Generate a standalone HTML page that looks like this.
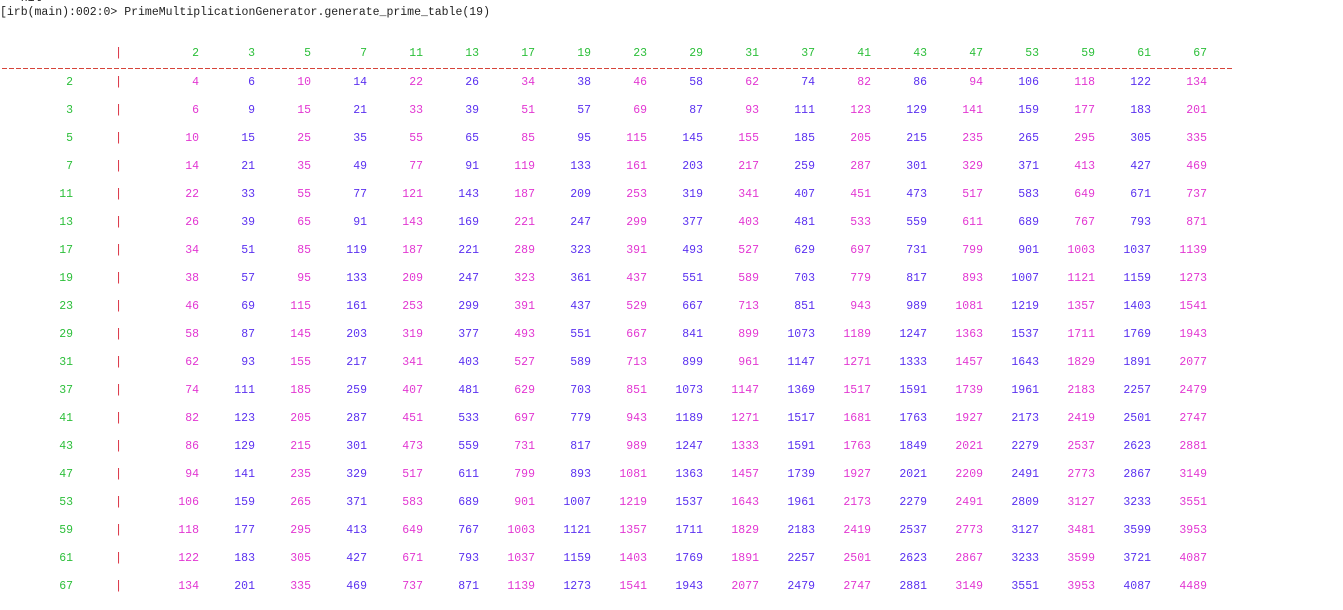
<!DOCTYPE html>
<html><head><meta charset="utf-8"><style>
html,body{margin:0;padding:0;background:#fff;width:1343px;height:610px;overflow:hidden;position:relative;font-family:"Liberation Mono",monospace;font-size:11.5px}
.t{position:absolute;white-space:pre;line-height:14px}
.r{text-align:right;width:60px}
.g{color:#2cbf3a}.m{color:#e236d2}.b{color:#5a30f0}.red{color:#d8283a}
#sep{position:absolute;left:2px;top:68px;width:1232px;height:1px;background:repeating-linear-gradient(90deg,#d6443a 0 5px,transparent 5px 7px)}
</style></head><body>
<div class="t" style="left:0;top:-8px;color:#222">=&gt; nil</div>
<div class="t" style="left:0;top:6px;color:#222">[irb(main):002:0&gt; PrimeMultiplicationGenerator.generate_prime_table(19)</div>
<div id="sep"></div>
<div id="tbl"></div>
<script>
const primes=[2,3,5,7,11,13,17,19,23,29,31,37,41,43,47,53,59,61,67];
const rowPrimes=[2,3,5,7,11,13,17,19,23,29,31,37,41,43,47,53,59,61,67];
const tbl=document.getElementById('tbl');
const colRight=i=>199+i*56;
const rowY=j=>83+j*28;
function add(txt,cls,right,cy,name){
  const s=document.createElement('div');
  s.className='t r '+cls;
  s.textContent=txt;
  s.style.left=(right-60)+'px';
  s.style.top=(cy-7)+'px';
  
  
  tbl.appendChild(s);
}
add('|','red',122,54,'header-pipe');
primes.forEach((p,i)=>add(String(p),'g',colRight(i),54,'column-header'));
rowPrimes.forEach((q,j)=>{
  const y=rowY(j);
  add(String(q),'g',73,y,'row-header');
  add('|','red',122,y,'row-pipe');
  primes.forEach((p,i)=>add(String(p*q),i%2===0?'m':'b',colRight(i),y,'product-cell'));
});
</script>
</body></html>
